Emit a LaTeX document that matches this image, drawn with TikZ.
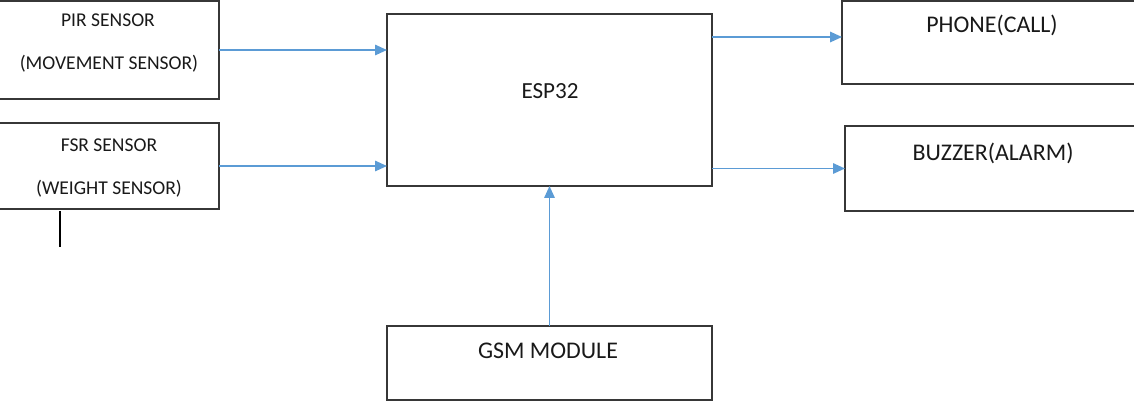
\documentclass[tikz,border=0pt]{standalone}
\usepackage{fontspec}
\setmainfont{Carlito}
\usepackage{tikz}
\usetikzlibrary{arrows.meta,positioning,calc}
\definecolor{wireblue}{RGB}{91,155,213}
\definecolor{boxline}{RGB}{55,55,55}

\begin{document}
\begin{tikzpicture}[
    x=0.025cm, y=-0.025cm,
    >={Triangle[length=8.5pt,width=7.5pt]},
    block/.style={
        rectangle,
        draw=boxline,
        line width=1pt,
        inner sep=0pt,
        outer sep=0pt
    },
    sensorblock/.style={block, minimum width=5.55cm},
    coreblock/.style={block, minimum width=8.125cm},
    outblock/.style={block, minimum width=7.45cm},
    title/.style={font=\fontsize{13.9}{16}\selectfont, text=black!90, inner sep=0pt},
    bigtitle/.style={font=\fontsize{17}{20}\selectfont, text=black!90, inner sep=0pt},
    wire/.style={->, draw=wireblue, line width=1pt, color=wireblue}
]
\useasboundingbox (0,0) rectangle (1134,403);

% ---------------------------------------------------------------- Blocks
\node[sensorblock, minimum height=2.45cm]  (pir)    at (108,  50)   {};
\node[sensorblock, minimum height=2.15cm]  (fsr)    at (108,  166)  {};
\node[coreblock,   minimum height=4.3cm]   (esp)    at (549.5,100)  {};
\node[outblock,    minimum height=2.075cm] (phone)  at (991,  42.5) {};
\node[outblock, minimum width=7.375cm, minimum height=2.125cm] (buzzer) at (992.5,168.5) {};
\node[coreblock,   minimum height=1.85cm]  (gsm)    at (549.5,363)  {};

% ---------------------------------------------------------------- Titles
\node[title]    (pirName)  at (108, 20)  {PIR SENSOR};
\node[title]    (pirKind)  at (109, 64)  {(MOVEMENT SENSOR)};
\node[title]    (fsrName)  at (109, 145) {FSR SENSOR};
\node[title]    (fsrKind)  at (109, 189) {(WEIGHT SENSOR)};
\node[bigtitle, font=\fontsize{16.4}{19}\selectfont] (espName) at (550, 91) {ESP32};
\node[bigtitle] (phoneName)  at (992, 25)  {PHONE(CALL)};
\node[bigtitle] (buzzerName) at (993, 153) {BUZZER(ALARM)};
\node[bigtitle] (gsmName)    at (548, 351) {GSM MODULE};

% ---------------------------------------------------------------- Connections
\coordinate (phoneIn) at (842,37);
\draw[wire] (pir.east) -- (pir.east -| esp.west);
\draw[wire] (fsr.east) -- (fsr.east -| esp.west);
\draw[wire] (phoneIn -| esp.east) -- (phoneIn);
\draw[wire] (buzzer.west -| esp.east) -- (buzzer.west);
\draw[wire] (gsm.north) -- (esp.south);

% stray tick under the FSR block
\coordinate (tickTop) at (60,211);
\coordinate (tickEnd) at (60,247);
\draw[black, line width=0.9pt] (tickTop) -- (tickEnd);

\end{tikzpicture}
\end{document}
